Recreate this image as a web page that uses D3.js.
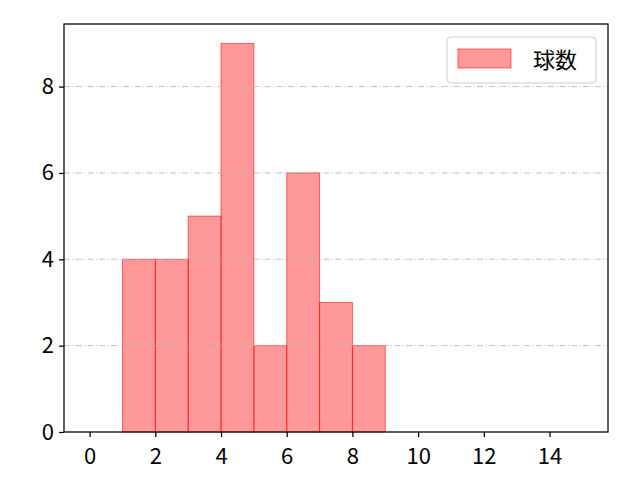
<!DOCTYPE html>
<html>
<head>
<meta charset="utf-8">
<script src="https://cdn.jsdelivr.net/npm/d3@7"></script>
<style>
  body { margin: 0; background: #fff; }
</style>
</head>
<body>
<svg id="chart" width="640" height="480"></svg>
<script>
// histogram bins (left edge, right edge) and counts
var binStarts = [1, 2, 3, 4, 5, 6, 7, 8];
var binEnds = [2, 3, 4, 5, 6, 7, 8, 9];
var counts = [4, 4, 5, 9, 2, 6, 3, 2];
var xTicks = [0, 2, 4, 6, 8, 10, 12, 14];
var yTicks = [0, 2, 4, 6, 8];
var seriesName = "球数";

var fontFamily = "'Noto Sans CJK JP', 'DejaVu Sans', sans-serif";
var margin = { top: 24, right: 32, bottom: 48, left: 64 };
var svgWidth = 640, svgHeight = 480;
var innerWidth = svgWidth - margin.left - margin.right;
var innerHeight = svgHeight - margin.top - margin.bottom;

var svg = d3.select("#chart");

var xScale = d3.scaleLinear()
  .domain([-0.78, 15.78])
  .range([margin.left, margin.left + innerWidth]);

var yScale = d3.scaleLinear()
  .domain([0, 9.45])
  .range([margin.top + innerHeight, margin.top]);

// bars
svg.selectAll("rect.bar")
  .data(counts)
  .enter().append("rect")
  .attr("class", "bar")
  .attr("x", (d, i) => xScale(binStarts[i]))
  .attr("y", d => yScale(d))
  .attr("width", (d, i) => xScale(binEnds[i]) - xScale(binStarts[i]))
  .attr("height", d => yScale(0) - yScale(d))
  .attr("fill", "#ff0000")
  .attr("fill-opacity", 0.4)
  .attr("stroke", "#ff0000")
  .attr("stroke-opacity", 0.55)
  .attr("stroke-width", 1);

// grid
svg.append("g")
  .selectAll("line")
  .data(yTicks.filter(d => d > 0))
  .enter().append("line")
  .attr("x1", margin.left)
  .attr("x2", margin.left + innerWidth)
  .attr("y1", d => yScale(d))
  .attr("y2", d => yScale(d))
  .attr("stroke", "#b0b0b0")
  .attr("stroke-width", 0.8)
  .attr("stroke-dasharray", "6,2.4,1,2.4");

// axes
var xAxis = d3.axisBottom(xScale).tickValues(xTicks).tickSize(5).tickPadding(5);
var yAxis = d3.axisLeft(yScale).tickValues(yTicks).tickSize(5).tickPadding(5);

var gx = svg.append("g")
  .attr("transform", `translate(0, ${margin.top + innerHeight})`)
  .call(xAxis);
var gy = svg.append("g")
  .attr("transform", `translate(${margin.left}, 0)`)
  .call(yAxis);

[gx, gy].forEach(g => {
  g.attr("font-size", 22).attr("font-family", fontFamily);
  g.select(".domain").remove();
  g.selectAll(".tick line").attr("stroke", "#000").attr("stroke-width", 1.25);
  g.selectAll(".tick text").attr("fill", "#000");
});
// nudge x labels down to sit like the reference
gx.selectAll(".tick text").attr("dy", "1.0em");

// frame
svg.append("rect")
  .attr("x", margin.left)
  .attr("y", margin.top)
  .attr("width", innerWidth)
  .attr("height", innerHeight)
  .attr("fill", "none")
  .attr("stroke", "#000")
  .attr("stroke-width", 1.25);

// legend
var legend = svg.append("g").attr("transform", "translate(447, 37)");
legend.append("rect")
  .attr("width", 149)
  .attr("height", 46)
  .attr("rx", 4)
  .attr("fill", "#fff")
  .attr("fill-opacity", 0.8)
  .attr("stroke", "#cccccc");
legend.append("rect")
  .attr("x", 11)
  .attr("y", 12)
  .attr("width", 53)
  .attr("height", 19)
  .attr("fill", "#ff0000")
  .attr("fill-opacity", 0.4)
  .attr("stroke", "#ff0000")
  .attr("stroke-opacity", 0.55);
legend.append("text")
  .attr("x", 86)
  .attr("y", 31)
  .attr("font-family", fontFamily)
  .attr("font-size", 22)
  .text(seriesName);
</script>
</body>
</html>
